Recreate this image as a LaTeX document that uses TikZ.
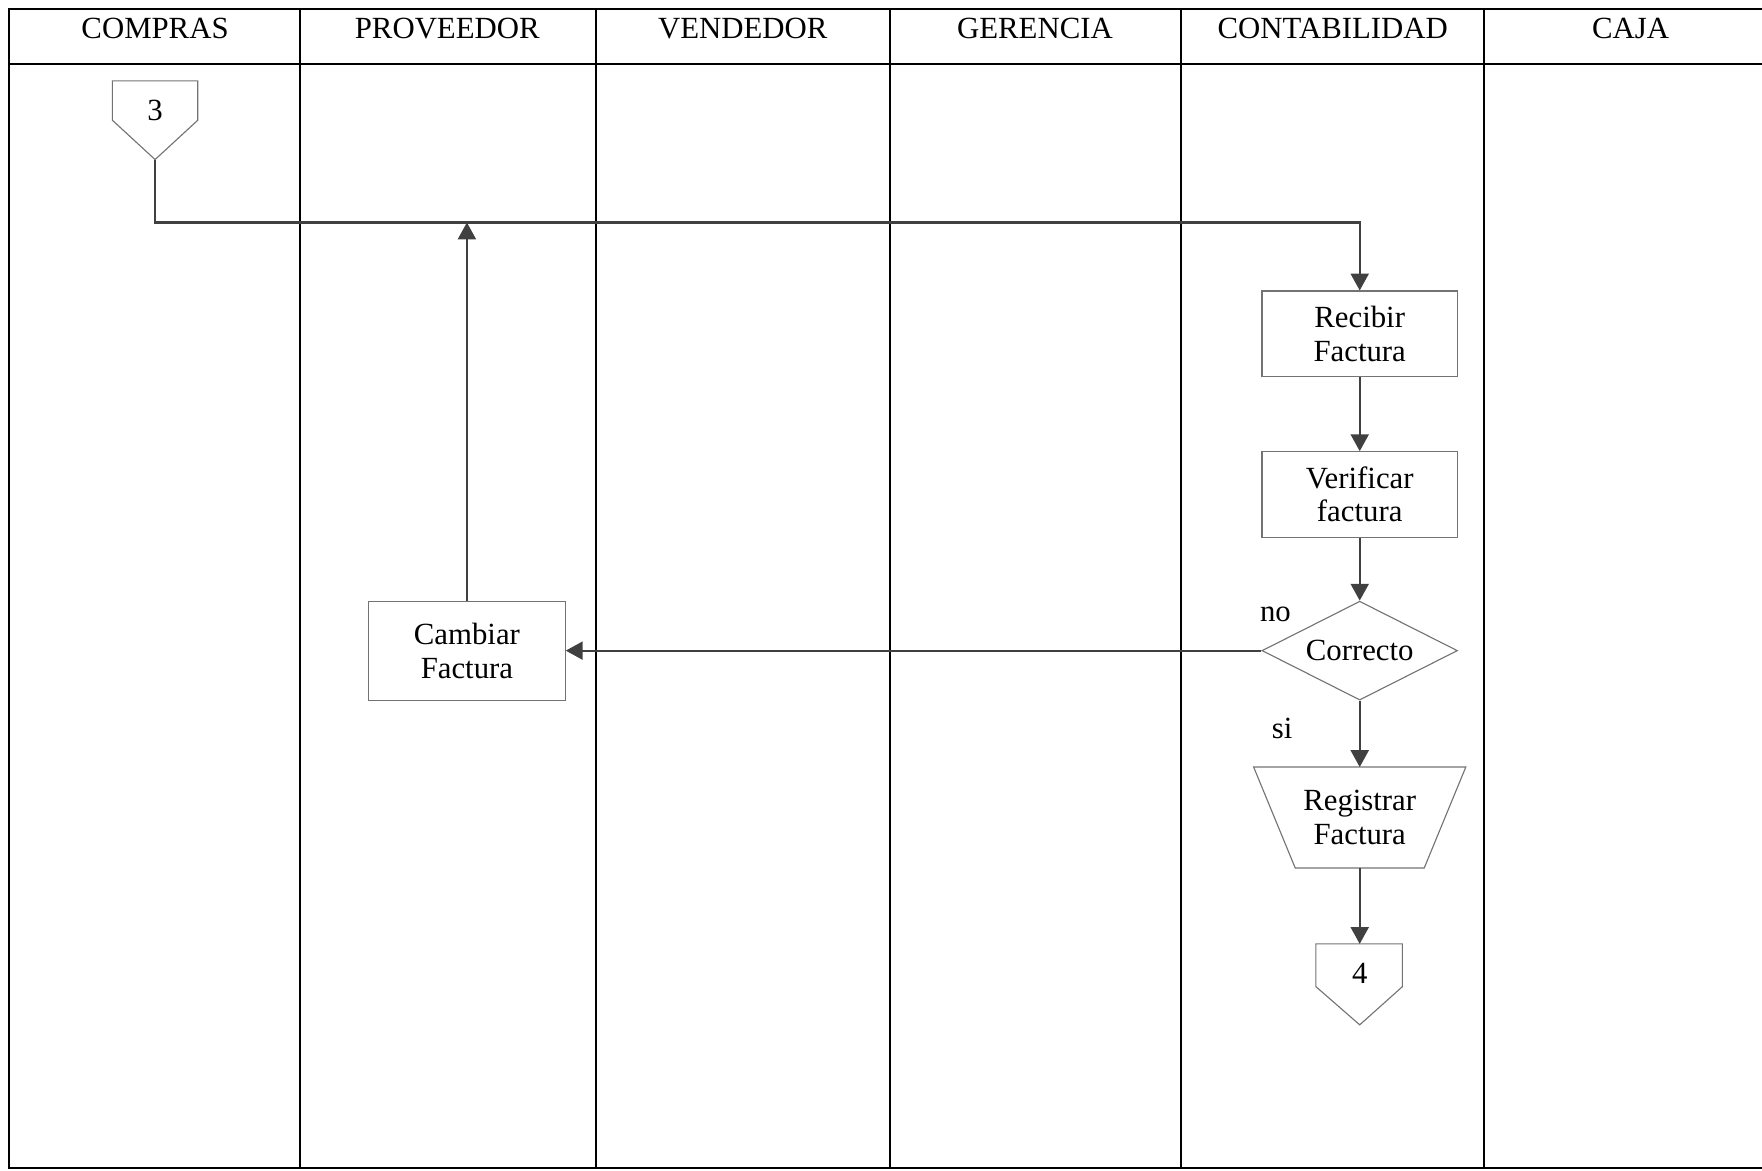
\documentclass[tikz,border=0pt]{standalone}
\usepackage{fontspec}
\setmainfont{Liberation Serif}
\usetikzlibrary{shapes.geometric,arrows.meta}
\begin{document}
\begin{tikzpicture}[x=0.5pt,y=-0.5pt,
  font=\fontsize{13.7}{15}\selectfont,
  lane/.style={line width=0.9pt, draw=black},
  proc/.style={draw=black!55, line width=0.5pt, minimum width=87pt, minimum height=38pt,
               align=center, inner sep=0pt},
  decide/.style={diamond, aspect=2, draw=black!55, line width=0.5pt, minimum width=87pt,
                 minimum height=44pt, inner sep=0pt},
  manualbox/.style={minimum width=94pt, minimum height=44.5pt, align=center, inner sep=0pt},
  offpage/.style={draw=black!55, line width=0.5pt},
  flow/.style={draw=black!75, line width=1pt, -{Triangle[length=7.5pt,width=8pt]}},
  head/.style={inner sep=0pt}]
\useasboundingbox (0,0) rectangle (1568,1042);

% swimlane frame
\draw[lane] (1568,8) -- (8,8) -- (8,1039) -- (1568,1039);
\draw[lane] (8,57) -- (1568,57);
\foreach \x in {267,530,792,1051,1321} \draw[lane] (\x,8) -- (\x,1039);

% lane titles
\node[head] (hcompras) at (138,25) {COMPRAS};
\node[head] (hprov)    at (398,25) {PROVEEDOR};
\node[head] (hvend)    at (661,25) {VENDEDOR};
\node[head] (hger)     at (921,25) {GERENCIA};
\node[head] (hcont)    at (1186,25) {CONTABILIDAD};
\node[head] (hcaja)    at (1451,25) {CAJA};

% off-page connector 3
\draw[offpage] (100,72) -- (176,72) -- (176,107) -- (138,142) -- (100,107) -- cycle;
\node (c3) at (138,98) {3};
\coordinate (c3tip) at (138,142);

% process steps
\node[proc] (rec) at (1210,297) {Recibir\\Factura};
\node[proc] (ver) at (1210,440) {Verificar\\factura};
\node[decide] (cor) at (1210,579) {Correcto};
\node[proc, minimum height=44pt, minimum width=87.5pt] (cam) at (415.5,579) {Cambiar\\Factura};
\node[manualbox] (reg) at (1210,727.5) {Registrar\\Factura};
\draw[offpage] (reg.north west) -- (reg.north east)
  -- ([xshift=-18.5pt]reg.south east) -- ([xshift=18.5pt]reg.south west) -- cycle;

% off-page connector 4
\draw[offpage] (1171,840) -- (1248,840) -- (1248,878) -- (1210,912) -- (1171,878) -- cycle;
\node (c4) at (1210,866) {4};
\coordinate (c4top) at (1210,840);

% branch labels
\node (lno) at (1135,547) {no};
\node (lsi) at (1141,648) {si};

% connectors
\coordinate (bend) at (1210,198);
\draw[flow] (c3tip) |- (bend) -- (rec.north);
\draw[flow] (rec.south) -- (ver.north);
\draw[flow] (ver.south) -- (cor.north);
\draw[flow] (cor.west) -- (cam.east);
\draw[flow] (cam.north) -- (cam.north |- bend);
\draw[flow] (cor.south) -- (reg.north);
\draw[flow] (reg.south) -- (c4top);
\end{tikzpicture}
\end{document}
